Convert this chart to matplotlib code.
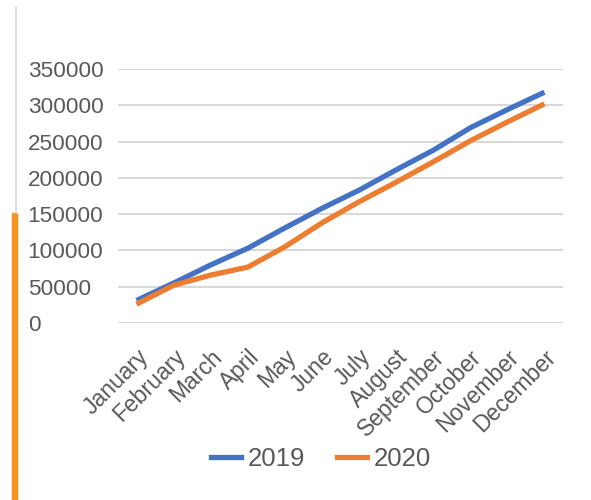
import numpy as np
import matplotlib.pyplot as plt
from matplotlib.patches import Rectangle
from matplotlib.lines import Line2D

months = ["January", "February", "March", "April", "May", "June", "July",
          "August", "September", "October", "November", "December"]
y2019 = [31000, 55000, 80000, 103000, 131000, 158000, 183000,
         211000, 238000, 269000, 294000, 318000]
y2020 = [26000, 52000, 66000, 77000, 105000, 138000, 167000,
         194000, 222000, 251000, 277000, 302000]
yticks = [0, 50000, 100000, 150000, 200000, 250000, 300000, 350000]

plt.rcParams['font.family'] = ['Liberation Sans', 'DejaVu Sans']

W, H = 591, 500
fig = plt.figure(figsize=(W/100, H/100), dpi=100)
ax = fig.add_axes([118/W, 1-323/H, (563-118)/W, (323-69)/H])

x = np.arange(len(months))
ax.plot(x, y2019, color="#4472C4", lw=3.8, solid_capstyle="butt", label="2019", zorder=3)
ax.plot(x, y2020, color="#ED7D31", lw=3.8, solid_capstyle="butt", label="2020", zorder=3)

ax.set_xlim(-0.5, len(months) - 0.5)
ax.set_ylim(0, 350000)
ax.set_yticks(yticks)
ax.set_yticklabels([str(v) for v in yticks])
ax.grid(axis="y", color="#d9d9d9", lw=1.5)
ax.set_axisbelow(True)
for s in ax.spines.values():
    s.set_visible(False)

ax.tick_params(axis="y", length=0, pad=65, labelsize=16.2, labelcolor="#595959")
for lab in ax.get_yticklabels():
    lab.set_horizontalalignment("left")

ax.set_xticks(x)
ax.set_xticklabels(months, rotation=45, ha="right", rotation_mode="anchor")
ax.tick_params(axis="x", length=0, pad=16, labelsize=16.5, labelcolor="#595959")

handles = [Line2D([], [], color="#4472C4", lw=3.8),
           Line2D([], [], color="#ED7D31", lw=3.8)]
fig.legend(handles, ["2019", "2020"], loc="center", bbox_to_anchor=(321/W, 1-459/H),
           ncol=2, frameon=False, fontsize=18.5, labelcolor="#595959",
           handlelength=1.17, handletextpad=0.27, columnspacing=1.25)

# left-hand page edge
fig.add_artist(Line2D([16/W, 16/W], [1-7/H, 1-213/H], color="#d9d9d9", lw=1.2,
                      transform=fig.transFigure))
fig.add_artist(Rectangle((12/W, 0), 5/W, 1-213/H, color="#F7941D",
                         transform=fig.transFigure))

fig.savefig("out.png", dpi=100)
